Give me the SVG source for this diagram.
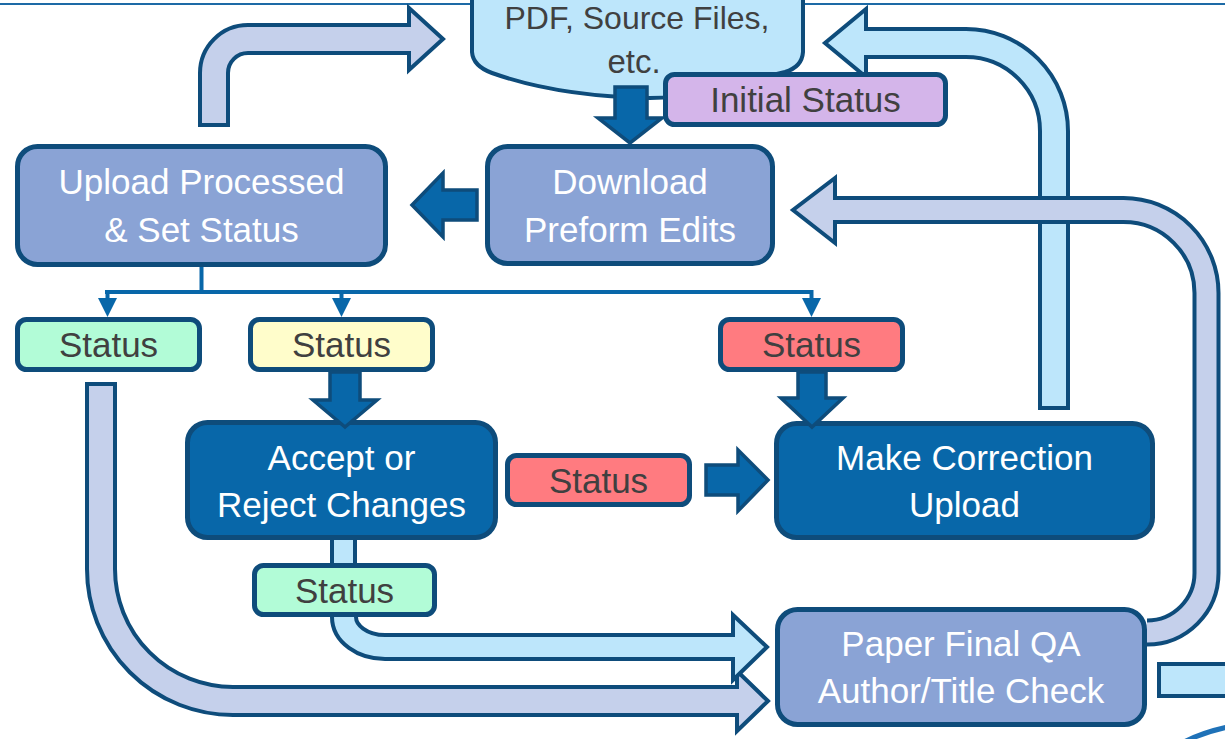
<svg xmlns="http://www.w3.org/2000/svg" width="1225" height="739" viewBox="0 0 1225 739">
<style>
.t{font-family:"Liberation Sans",Arial,sans-serif;font-size:35px;text-anchor:middle}
.w{fill:#ffffff}
.g{fill:#404040}
.box{stroke:#0e4c7b;stroke-width:5}
.pb{fill:#8aa3d5}
.db{fill:#0867a9}
.st{stroke:#0e4c7b;stroke-width:5}
.ol{fill:none;stroke:#0e4c7b}
.lbs{fill:none;stroke:#bde6fb}
.pws{fill:none;stroke:#c5d0eb}
.hd{stroke:#0e4c7b;stroke-width:4;stroke-linejoin:miter}
.solid{fill:#0867a9;stroke:#0e4c7b;stroke-width:3.5;stroke-linejoin:miter}
.thin{fill:none;stroke:#0867a9;stroke-width:4}
</style>
<rect width="1225" height="739" fill="#ffffff"/>
<line x1="0" y1="4" x2="1225" y2="4" stroke="#1d6aa6" stroke-width="2"/>

<g id="doc">
<path d="M472,-10 V52 Q473,66 492,73 C540,90 590,97 650,98 C700,98 750,80 785,72 Q802,67 803,52 V-10 Z" fill="#bde6fb" stroke="#0e4c7b" stroke-width="4"/>
<text class="t g" x="637" y="29" style="font-size:32px">PDF, Source Files,</text>
<text class="t g" x="634" y="73" style="font-size:33px">etc.</text>
</g>

<g id="upload">
<rect class="box pb" x="17.5" y="146.5" width="368" height="118" rx="20"/>
<text class="t w" x="201.5" y="194">Upload Processed</text>
<text class="t w" x="201.5" y="242">&amp; Set Status</text>
</g>

<g id="download">
<rect class="box pb" x="487.5" y="146.5" width="285" height="117" rx="20"/>
<text class="t w" x="630" y="193.5">Download</text>
<text class="t w" x="630" y="241.5">Preform Edits</text>
</g>

<g id="status-green-1">
<rect class="st" fill="#b2fcd7" x="17.5" y="319.5" width="182" height="50" rx="9"/>
<text class="t g" x="108.5" y="357">Status</text>
</g>

<g id="status-yellow">
<rect class="st" fill="#fffdcb" x="250.5" y="319.5" width="182" height="50" rx="9"/>
<text class="t g" x="341.5" y="357">Status</text>
</g>

<g id="status-red-top">
<rect class="st" fill="#ff7b80" x="720.5" y="319.5" width="182" height="50" rx="9"/>
<text class="t g" x="811.5" y="357">Status</text>
</g>

<g id="accept">
<rect class="box db" x="187.5" y="422.5" width="308" height="115" rx="20"/>
<text class="t w" x="341.5" y="469.5">Accept or</text>
<text class="t w" x="341.5" y="517">Reject Changes</text>
</g>

<g id="status-red-mid">
<rect class="st" fill="#ff7b80" x="507.5" y="455.5" width="182" height="49" rx="9"/>
<text class="t g" x="598.5" y="492.5">Status</text>
</g>

<g id="correction">
<rect class="box db" x="776.5" y="423.5" width="376" height="114" rx="20"/>
<text class="t w" x="964.5" y="470">Make Correction</text>
<text class="t w" x="964.5" y="517">Upload</text>
</g>

<g id="status-green-2">
<rect class="st" fill="#b2fcd7" x="254.5" y="565.5" width="180" height="49" rx="9"/>
<text class="t g" x="344.5" y="602.5">Status</text>
</g>

<g id="finalqa">
<rect class="box pb" x="777.5" y="609.5" width="367" height="115" rx="20"/>
<text class="t w" x="961" y="656">Paper Final QA</text>
<text class="t w" x="961" y="703">Author/Title Check</text>
</g>

<g id="connectors">
<!-- Upload -> doc (bent periwinkle) -->
<path class="ol" stroke-width="32" d="M214,127 V73 A34,34 0 0 1 248,39 H409"/>
<polygon class="hd" fill="#c5d0eb" points="409,8 443,39 409,70"/>
<path class="pws" stroke-width="24" d="M214,123 V73 A34,34 0 0 1 248,39 H412"/>

<!-- Download -> Upload -->
<polygon class="solid" points="477,190 443,190 443,173 412,205 443,237 443,220 477,220"/>

<!-- doc -> Download -->
<polygon class="solid" points="615,87 647,87 647,118 662,118 630,143 598,118 615,118"/>

<!-- Make Correction -> doc (light blue) -->
<path class="ol" stroke-width="32" d="M1054,410 V131 A88,88 0 0 0 966,43 H866"/>
<polygon class="hd" fill="#bde6fb" points="866,9 825,43 866,77"/>
<path class="lbs" stroke-width="24" d="M1054,406 V131 A88,88 0 0 0 966,43 H862"/>

<!-- Final QA -> Download (periwinkle) -->
<path class="ol" stroke-width="28" d="M1147,632.5 A59.5,59.5 0 0 0 1206.5,573 V293 A83,83 0 0 0 1123.5,210 H835"/>
<polygon class="hd" fill="#c5d0eb" points="835,178 793,210 835,243"/>
<path class="pws" stroke-width="20" d="M1147,632.5 A59.5,59.5 0 0 0 1206.5,573 V293 A83,83 0 0 0 1123.5,210 H831"/>

<!-- distribution lines -->
<path class="thin" d="M201.5,267 V292 M105,292 H813.5 M107.5,292 V300 M341.5,292 V300 M811.5,292 V300"/>
<polygon fill="#0867a9" points="98,298 117,298 107.5,317"/>
<polygon fill="#0867a9" points="332,298 351,298 341.5,317"/>
<polygon fill="#0867a9" points="802,298 821,298 811.5,317"/>

<!-- yellow status -> Accept -->
<polygon class="solid" points="330,372 360,372 360,400 377,400 345,427 313,400 330,400"/>

<!-- red top status -> Make Correction -->
<polygon class="solid" points="798,372 826,372 826,398 843,398 812,427 781,398 798,398"/>

<!-- red mid status -> Make Correction -->
<polygon class="solid" points="706,465 738,465 738,450 768,480 738,511 738,495 706,495"/>

<!-- Accept -> green status 2 -->
<path class="ol" stroke-width="27" d="M343.5,540 V563"/>
<path class="lbs" stroke-width="19" d="M343.5,540 V563"/>

<!-- green status 1 -> Final QA (periwinkle) -->
<path class="ol" stroke-width="32" d="M101,382 V569 A132,132 0 0 0 233,701 H737"/>
<polygon class="hd" fill="#c5d0eb" points="737,671 768,701 737,731"/>
<path class="pws" stroke-width="24" d="M101,386 V569 A132,132 0 0 0 233,701 H741"/>

<!-- green status 2 -> Final QA (light blue) -->
<path class="ol" stroke-width="28" d="M344,617 A41,30 0 0 0 385,647 H733"/>
<polygon class="hd" fill="#bde6fb" points="733,615 767,647 733,680"/>
<path class="lbs" stroke-width="20" d="M344,617 A41,30 0 0 0 385,647 H737"/>

<!-- Final QA -> off-canvas right -->
<rect x="1159" y="664" width="80" height="32" fill="#bde6fb" stroke="#0e4c7b" stroke-width="4"/>
</g>

<g id="initial-status">
<rect class="st" fill="#d4b5ea" x="665.5" y="74.5" width="280" height="50" rx="9"/>
<text class="t g" x="805.5" y="112">Initial Status</text>
</g>

<path d="M1184,742 Q1204,732 1228,727" fill="none" stroke="#1f72b8" stroke-width="5"/>
</svg>
